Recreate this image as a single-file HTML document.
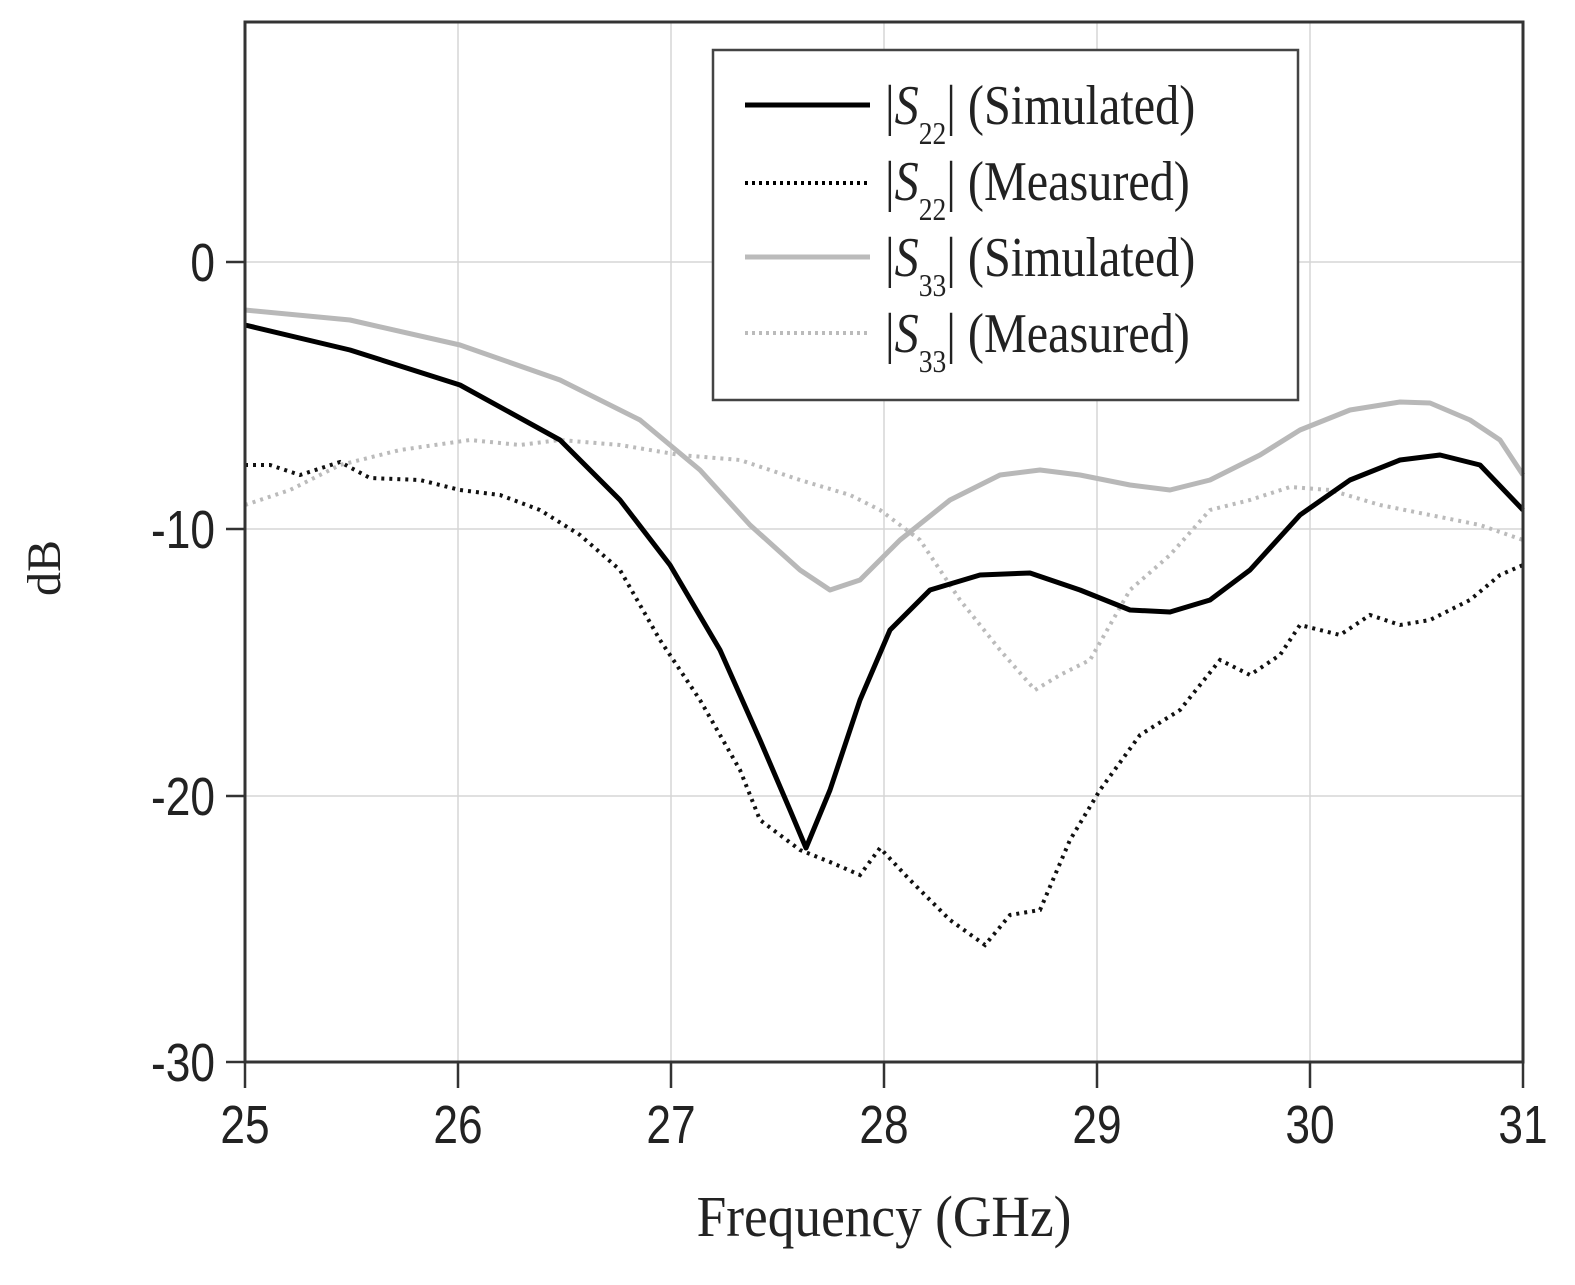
<!DOCTYPE html>
<html><head><style>body{margin:0;background:#fff}</style></head><body>
<svg width="1575" height="1280" viewBox="0 0 1575 1280" xmlns="http://www.w3.org/2000/svg">
<rect width="1575" height="1280" fill="#fff"/>
<g stroke="#d6d6d6" stroke-width="1.5">
<line x1="458" y1="22" x2="458" y2="1062"/><line x1="671" y1="22" x2="671" y2="1062"/><line x1="884" y1="22" x2="884" y2="1062"/><line x1="1097" y1="22" x2="1097" y2="1062"/><line x1="1310" y1="22" x2="1310" y2="1062"/>
<line x1="245" y1="262" x2="1523" y2="262"/><line x1="245" y1="529" x2="1523" y2="529"/><line x1="245" y1="796" x2="1523" y2="796"/>
</g>
<g stroke="#333" stroke-width="2.5">
<line x1="245" y1="1062" x2="245" y2="1088"/><line x1="458" y1="1062" x2="458" y2="1088"/><line x1="671" y1="1062" x2="671" y2="1088"/><line x1="884" y1="1062" x2="884" y2="1088"/><line x1="1097" y1="1062" x2="1097" y2="1088"/><line x1="1310" y1="1062" x2="1310" y2="1088"/><line x1="1523" y1="1062" x2="1523" y2="1088"/>
<line x1="226" y1="262" x2="245" y2="262"/><line x1="226" y1="529" x2="245" y2="529"/><line x1="226" y1="796" x2="245" y2="796"/><line x1="226" y1="1062" x2="245" y2="1062"/>
</g>
<polyline fill="none" stroke="#bbb" stroke-width="4" stroke-dasharray="3,5" points="245,505 290,490 340,465 400,450 470,440 520,445 560,440 620,445 680,455 740,460 800,480 850,495 880,510 920,540 960,600 1000,650 1035,690 1060,675 1090,660 1130,590 1170,555 1210,510 1250,500 1290,487 1330,490 1380,505 1430,515 1480,525 1523,540"/>
<polyline fill="none" stroke="#111" stroke-width="4" stroke-dasharray="3,5" points="245,465 270,465 300,475 340,462 370,478 420,480 460,490 500,495 540,510 580,535 620,570 660,640 700,700 740,770 760,820 800,850 830,862 860,875 880,848 910,880 950,920 985,945 1010,915 1040,910 1070,840 1100,790 1140,735 1180,710 1220,660 1250,675 1280,655 1300,625 1340,635 1370,615 1400,625 1430,620 1470,600 1500,575 1523,565"/>
<polyline fill="none" stroke="#b8b8b8" stroke-width="5" stroke-linejoin="round" points="245,310 350,320 460,345 560,380 640,420 700,470 750,525 800,570 830,590 860,580 900,540 950,500 1000,475 1040,470 1080,475 1130,485 1170,490 1210,480 1260,455 1300,430 1350,410 1400,402 1430,403 1470,420 1500,440 1523,475"/>
<polyline fill="none" stroke="#000" stroke-width="5" stroke-linejoin="round" points="245,325 350,350 460,385 560,440 620,500 670,565 720,650 760,740 790,810 806,848 830,790 860,700 890,630 930,590 980,575 1030,573 1080,590 1130,610 1170,612 1210,600 1250,570 1300,515 1350,480 1400,460 1440,455 1480,465 1523,510"/>
<rect x="245" y="22" width="1278" height="1040" fill="none" stroke="#333" stroke-width="3"/>
<rect x="713" y="50" width="585" height="350" fill="#fff" stroke="#444" stroke-width="2.5"/>
<line x1="745" y1="105" x2="870" y2="105" stroke="#000" stroke-width="5"/>
<line x1="745" y1="183" x2="870" y2="183" stroke="#000" stroke-width="4" stroke-dasharray="3,4"/>
<line x1="745" y1="257" x2="870" y2="257" stroke="#bbb" stroke-width="5"/>
<line x1="745" y1="333" x2="870" y2="333" stroke="#bbb" stroke-width="4" stroke-dasharray="3,4"/>
<g font-family="Liberation Serif, serif" font-size="56" fill="#222">
<text transform="translate(885,124) scale(0.86,1)">|<tspan font-style="italic">S</tspan><tspan font-size="32" dy="20">22</tspan><tspan dy="-20">| (Simulated)</tspan></text>
<text transform="translate(885,200) scale(0.86,1)">|<tspan font-style="italic">S</tspan><tspan font-size="32" dy="20">22</tspan><tspan dy="-20">| (Measured)</tspan></text>
<text transform="translate(885,276) scale(0.86,1)">|<tspan font-style="italic">S</tspan><tspan font-size="32" dy="20">33</tspan><tspan dy="-20">| (Simulated)</tspan></text>
<text transform="translate(885,352) scale(0.86,1)">|<tspan font-style="italic">S</tspan><tspan font-size="32" dy="20">33</tspan><tspan dy="-20">| (Measured)</tspan></text>
<text transform="translate(884,1236) scale(0.92,1)" text-anchor="middle" font-size="58">Frequency (GHz)</text>
<text transform="translate(60,568) rotate(-90)" text-anchor="middle" font-size="48">dB</text>
</g>
<g font-family="Liberation Sans, sans-serif" font-size="54" fill="#222">
<text transform="translate(215,281) scale(0.82,1)" text-anchor="end">0</text>
<text transform="translate(215,548) scale(0.82,1)" text-anchor="end">-10</text>
<text transform="translate(215,815) scale(0.82,1)" text-anchor="end">-20</text>
<text transform="translate(215,1081) scale(0.82,1)" text-anchor="end">-30</text>
<g text-anchor="middle">
<text transform="translate(245,1143) scale(0.82,1)">25</text><text transform="translate(458,1143) scale(0.82,1)">26</text><text transform="translate(671,1143) scale(0.82,1)">27</text><text transform="translate(884,1143) scale(0.82,1)">28</text><text transform="translate(1097,1143) scale(0.82,1)">29</text><text transform="translate(1310,1143) scale(0.82,1)">30</text><text transform="translate(1523,1143) scale(0.82,1)">31</text>
</g></g>
</svg>
</body></html>
